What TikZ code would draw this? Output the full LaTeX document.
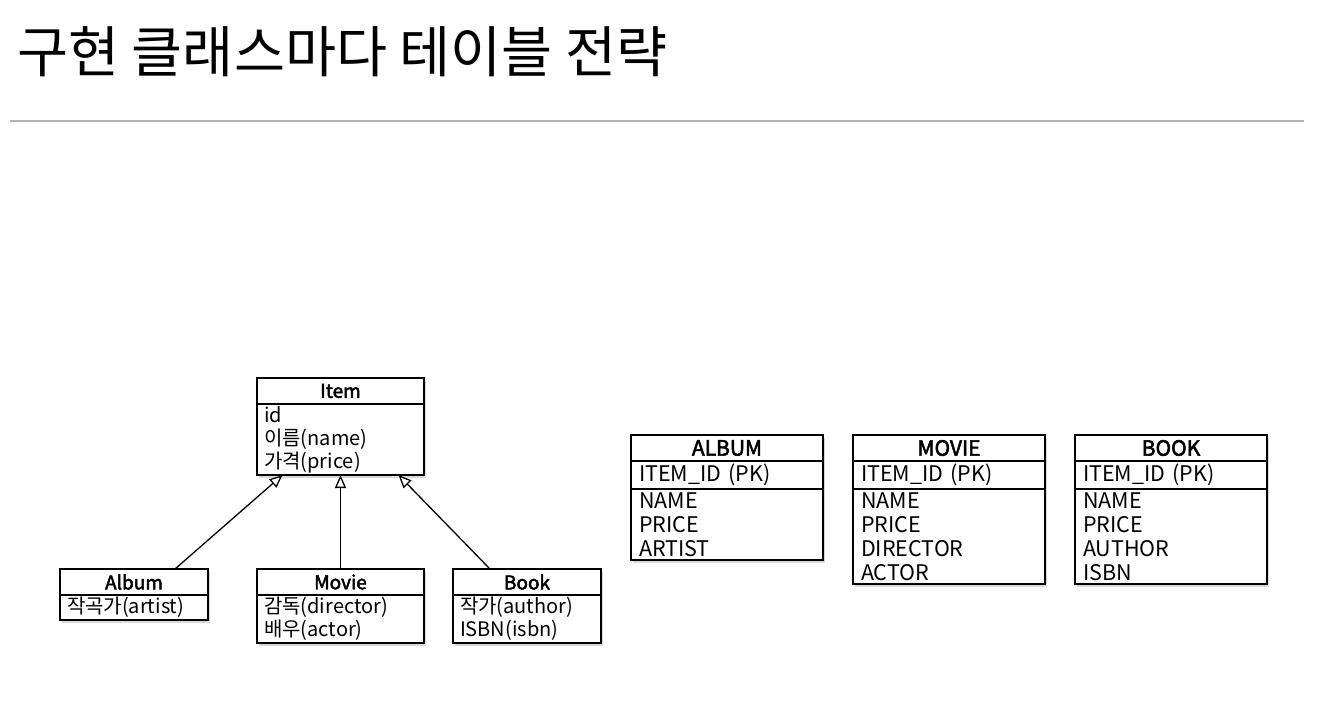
\documentclass[tikz,border=0pt]{standalone}
\usepackage{fontspec}
\setmainfont{Noto Sans CJK KR}
\newfontfamily\hdrfont[FakeBold=2.5]{Noto Sans CJK KR}
\usepackage{tikz}
\usetikzlibrary{positioning, arrows.meta, shadows}

\begin{document}
\begin{tikzpicture}[%
    x=1pt, y=-1pt,
    >={Triangle[open, length=13pt, width=11pt]},
    every node/.style={outer sep=0pt},
    box/.style={draw, fill=white, line width=1.3pt, inner sep=0pt,
      drop shadow={shadow xshift=2pt, shadow yshift=-3pt, opacity=0.3}},
    clshead/.style={box, anchor=north west, minimum width=#1, minimum height=26pt,
      font=\hdrfont\fontsize{19}{23}\selectfont},
    clsbody/.style={box, inner xsep=7pt, text width=#1, align=left,
      font=\fontsize{20}{23}\selectfont},
    tabhead/.style={box, anchor=north west, minimum width=192pt, minimum height=26pt,
      font=\hdrfont\fontsize{21}{24}\selectfont},
    tabbody/.style={box, inner xsep=8pt, text width=176pt, align=left,
      font=\fontsize{21.5}{24}\selectfont},
    inherit/.style={->, line width=1.3pt}
  ]
    \useasboundingbox (0,0) rectangle (1324,724);

    \node[anchor=base west, font=\fontsize{55.5}{64}\selectfont] (title) at (14,72)
      {구현 클래스마다 테이블 전략};
    \coordinate (rulestart) at (10,121);
    \coordinate (ruleend) at (1304,121);
    \draw[black!30, line width=1.2pt] (rulestart) -- (ruleend);

    \node[clshead=167pt] (itemhead) at (257,378) {Item};
    \node[clsbody=153pt, minimum height=71pt, below=0pt of itemhead] (itembody)
      {id\\이름(name)\\가격(price)};

    \node[clshead=148pt] (albumhead) at (60,569) {Album};
    \node[clsbody=134pt, minimum height=25pt, below=0pt of albumhead] (albumbody)
      {작곡가(artist)};

    \node[clshead=167pt] (moviehead) at (257,569) {Movie};
    \node[clsbody=153pt, minimum height=48pt, below=0pt of moviehead] (moviebody)
      {감독(director)\\배우(actor)};

    \node[clshead=148pt] (bookhead) at (453,569) {Book};
    \node[clsbody=134pt, minimum height=48pt, below=0pt of bookhead] (bookbody)
      {작가(author)\\ISBN(isbn)};

    \draw[inherit] ([xshift=41pt]albumhead.north) -- ([xshift=-58pt]itembody.south);
    \draw[inherit] (moviehead) -- (itembody);
    \draw[inherit] ([xshift=-37pt]bookhead.north) -- ([xshift=58pt]itembody.south);

    \node[tabhead] (albumtab) at (631,435) {ALBUM};
    \node[tabbody, minimum height=28pt, below=0pt of albumtab] (albumkey) {ITEM\_ID (PK)};
    \node[tabbody, minimum height=71pt, below=0pt of albumkey] (albumcols)
      {NAME\\PRICE\\ARTIST};

    \node[tabhead] (movietab) at (853,435) {MOVIE};
    \node[tabbody, minimum height=28pt, below=0pt of movietab] (moviekey) {ITEM\_ID (PK)};
    \node[tabbody, minimum height=95pt, below=0pt of moviekey] (moviecols)
      {NAME\\PRICE\\DIRECTOR\\ACTOR};

    \node[tabhead] (booktab) at (1075,435) {BOOK};
    \node[tabbody, minimum height=28pt, below=0pt of booktab] (bookkey) {ITEM\_ID (PK)};
    \node[tabbody, minimum height=95pt, below=0pt of bookkey] (bookcols)
      {NAME\\PRICE\\AUTHOR\\ISBN};
\end{tikzpicture}
\end{document}
